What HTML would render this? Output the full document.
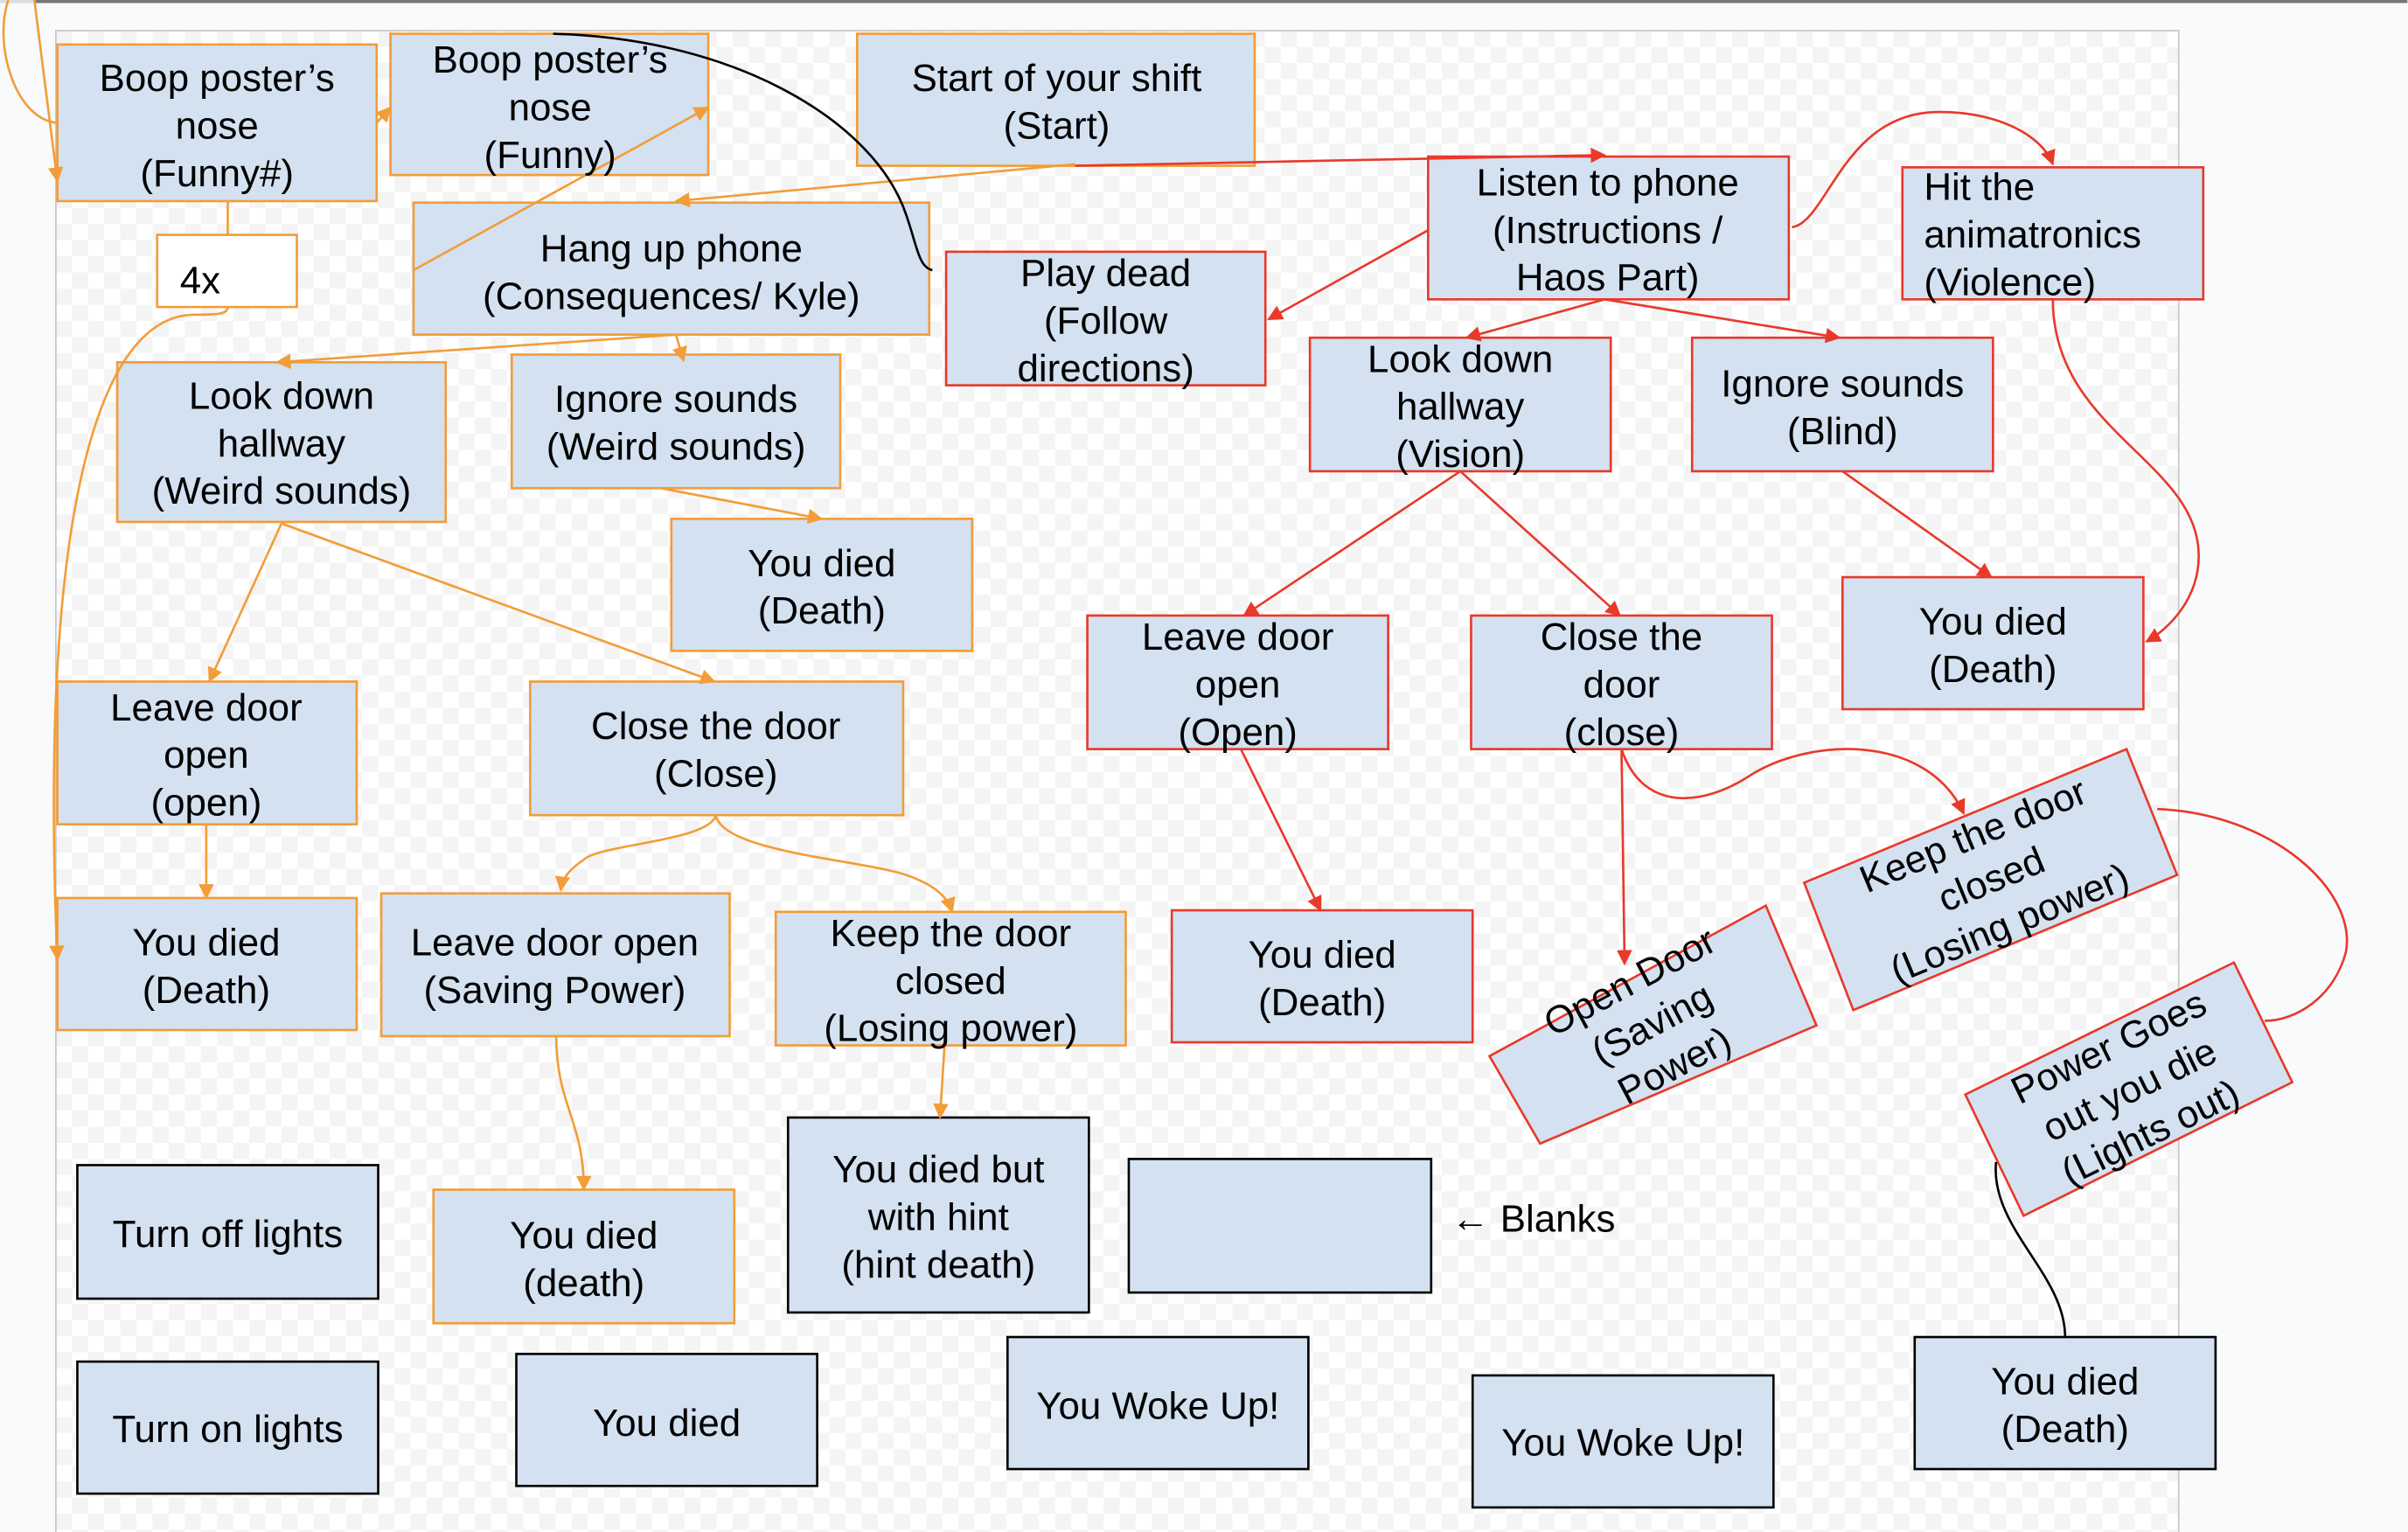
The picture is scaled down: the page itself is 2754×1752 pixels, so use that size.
<!DOCTYPE html>
<html><head><meta charset="utf-8"><style>
html,body{margin:0;padding:0;background:#f8fafc;}
svg{display:block;}
text{font-family:"Liberation Sans",Arial,sans-serif;font-size:25px;fill:#000;}
</style></head><body>
<svg width="2754" height="1752" viewBox="0 0 1568 998" xmlns="http://www.w3.org/2000/svg">
<defs>
<pattern id="chk" x="36" y="20" width="21" height="21" patternUnits="userSpaceOnUse">
<rect width="21" height="21" fill="#ffffff"/>
<rect width="10.5" height="10.5" fill="#f4f4f4"/>
<rect x="10.5" y="10.5" width="10.5" height="10.5" fill="#f4f4f4"/>
</pattern>
<marker id="ao" markerWidth="10" markerHeight="10" refX="9" refY="5" orient="auto" markerUnits="userSpaceOnUse" viewBox="0 0 10 10"><path d="M0,0 L10,5 L0,10 z" fill="#f29d38"/></marker>
<marker id="ar" markerWidth="10" markerHeight="10" refX="9" refY="5" orient="auto" markerUnits="userSpaceOnUse" viewBox="0 0 10 10"><path d="M0,0 L10,5 L0,10 z" fill="#e8392b"/></marker>
</defs>
<rect x="0" y="0" width="1568" height="998" fill="#f8fafc"/>
<rect x="0" y="0" width="1568" height="2" fill="#777"/>
<rect x="0" y="0" width="22" height="2" fill="#ddd"/>
<rect x="36" y="20" width="1383" height="980" fill="url(#chk)" stroke="#c8c8c8" stroke-width="1"/>

<!-- boxes -->
<g stroke-width="1.5" fill="#d4e1f0">
<g stroke="#f29d38">
<rect x="37" y="29" width="208" height="102"/>
<rect x="254" y="22" width="207" height="92"/>
<rect x="558" y="22" width="259" height="86"/>
<rect x="102" y="153" width="91" height="47" fill="#ffffff"/>
<rect x="269" y="132" width="336" height="86"/>
<rect x="76" y="236" width="214" height="104"/>
<rect x="333" y="231" width="214" height="87"/>
<rect x="437" y="338" width="196" height="86"/>
<rect x="37" y="444" width="195" height="93"/>
<rect x="345" y="444" width="243" height="87"/>
<rect x="37" y="585" width="195" height="86"/>
<rect x="248" y="582" width="227" height="93"/>
<rect x="505" y="594" width="228" height="87"/>
<rect x="282" y="775" width="196" height="87"/>
</g>
<g stroke="#e8392b">
<rect x="930" y="102" width="235" height="93"/>
<rect x="1239" y="109" width="196" height="86"/>
<rect x="616" y="164" width="208" height="87"/>
<rect x="853" y="220" width="196" height="87"/>
<rect x="1102" y="220" width="196" height="87"/>
<rect x="1200" y="376" width="196" height="86"/>
<rect x="708" y="401" width="196" height="87"/>
<rect x="958" y="401" width="196" height="87"/>
<rect x="763" y="593" width="196" height="86"/>
<polygon points="970,688 1150,590 1183,668 1003,745"/>
<polygon points="1175,575 1385,488 1418,570 1207,658"/>
<polygon points="1280,713 1455,627 1493,705 1318,792"/>
</g>
<g stroke="#000">
<rect x="513" y="728" width="196" height="127"/>
<rect x="735" y="755" width="197" height="87"/>
<rect x="50" y="759" width="196" height="87"/>
<rect x="50" y="887" width="196" height="86"/>
<rect x="336" y="882" width="196" height="86"/>
<rect x="656" y="871" width="196" height="86"/>
<rect x="959" y="896" width="196" height="86"/>
<rect x="1247" y="871" width="196" height="86"/>
</g>
</g>

<g fill="none" stroke-width="1.5">
<g stroke="#f29d38">
<path d="M37,80 C10,78 -5,30 5,0"/>
<path d="M22,0 L37,118" marker-end="url(#ao)"/>
<path d="M245,80 L254,70" marker-end="url(#ao)"/>
<path d="M269,176 L461,70" marker-end="url(#ao)"/>
<path d="M700,107 L440,131" marker-end="url(#ao)"/>
<path d="M148,131 L148,153"/>
<path d="M148,200 C148,205 140,205 125,205 C60,207 25,350 37,625" marker-end="url(#ao)"/>
<path d="M440,218 L180,236" marker-end="url(#ao)"/>
<path d="M440,218 L445,235" marker-end="url(#ao)"/>
<path d="M430,318 L535,338" marker-end="url(#ao)"/>
<path d="M183,341 L136,444" marker-end="url(#ao)"/>
<path d="M183,341 L465,444" marker-end="url(#ao)"/>
<path d="M134,537 L134,585" marker-end="url(#ao)"/>
<path d="M466,531 C462,548 390,550 380,560 C370,567 366,572 365,580" marker-end="url(#ao)"/>
<path d="M466,531 C470,555 560,560 590,570 C610,577 617,585 620,594" marker-end="url(#ao)"/>
<path d="M362,675 C362,720 380,730 380,775" marker-end="url(#ao)"/>
<path d="M615,681 L612,728" marker-end="url(#ao)"/>
</g>
<g stroke="#e8392b">
<path d="M700,108 L1045,101" marker-end="url(#ar)"/>
<path d="M930,150 L826,208" marker-end="url(#ar)"/>
<path d="M1045,195 L955,220" marker-end="url(#ar)"/>
<path d="M1045,195 L1198,220" marker-end="url(#ar)"/>
<path d="M1167,148 C1190,145 1200,75 1260,73 C1300,72 1330,88 1337,107" marker-end="url(#ar)"/>
<path d="M1337,195 C1337,280 1430,300 1432,360 C1433,390 1412,410 1398,418" marker-end="url(#ar)"/>
<path d="M951,307 L810,401" marker-end="url(#ar)"/>
<path d="M951,307 L1055,401" marker-end="url(#ar)"/>
<path d="M1200,307 L1297,376" marker-end="url(#ar)"/>
<path d="M808,488 L860,593" marker-end="url(#ar)"/>
<path d="M1056,488 L1058,628" marker-end="url(#ar)"/>
<path d="M1056,488 C1070,530 1110,525 1140,505 C1180,480 1255,478 1279,530" marker-end="url(#ar)"/>
<path d="M1405,527 C1480,530 1535,580 1528,620 C1520,650 1495,665 1475,665"/>
</g>
<g stroke="#000">
<path d="M360,22 C480,25 570,80 590,140 C597,160 598,174 607,176"/>
<path d="M1300,757 C1296,800 1345,830 1345,871"/>
</g>
</g>

<g text-anchor="middle" dominant-baseline="central">
<text x="141" y="51">Boop poster’s</text><text x="141" y="82">nose</text><text x="141" y="113">(Funny#)</text>
<text x="358" y="39">Boop poster’s</text><text x="358" y="70">nose</text><text x="358" y="101">(Funny)</text>
<text x="688" y="51">Start of your shift</text><text x="688" y="82">(Start)</text>
<text x="130" y="183">4x</text>
<text x="437" y="162">Hang up phone</text><text x="437" y="193">(Consequences/ Kyle)</text>
<text x="1047" y="119">Listen to phone</text><text x="1047" y="150">(Instructions /</text><text x="1047" y="181">Haos Part)</text>
<text x="1253" y="122" text-anchor="start">Hit the</text>
<text x="1253" y="153" text-anchor="start">animatronics</text>
<text x="1253" y="184" text-anchor="start">(Violence)</text>
<text x="720" y="178">Play dead</text><text x="720" y="209">(Follow</text><text x="720" y="240">directions)</text>
<text x="183" y="258">Look down</text><text x="183" y="289">hallway</text><text x="183" y="320">(Weird sounds)</text>
<text x="440" y="260">Ignore sounds</text><text x="440" y="291">(Weird sounds)</text>
<text x="951" y="234">Look down</text><text x="951" y="265">hallway</text><text x="951" y="296">(Vision)</text>
<text x="1200" y="250">Ignore sounds</text><text x="1200" y="281">(Blind)</text>
<text x="535" y="367">You died</text><text x="535" y="398">(Death)</text>
<text x="1298" y="405">You died</text><text x="1298" y="436">(Death)</text>
<text x="806" y="415">Leave door</text><text x="806" y="446">open</text><text x="806" y="477">(Open)</text>
<text x="1056" y="415">Close the</text><text x="1056" y="446">door</text><text x="1056" y="477">(close)</text>
<text x="134" y="461">Leave door</text><text x="134" y="492">open</text><text x="134" y="523">(open)</text>
<text x="466" y="473">Close the door</text><text x="466" y="504">(Close)</text>
<text x="134" y="614">You died</text><text x="134" y="645">(Death)</text>
<text x="361" y="614">Leave door open</text><text x="361" y="645">(Saving Power)</text>
<text x="619" y="608">Keep the door</text><text x="619" y="639">closed</text><text x="619" y="670">(Losing power)</text>
<text x="861" y="622">You died</text><text x="861" y="653">(Death)</text>
<text x="611" y="762">You died but</text><text x="611" y="793">with hint</text><text x="611" y="824">(hint death)</text>
<text x="148" y="804">Turn off lights</text>
<text x="148" y="931">Turn on lights</text>
<text x="380" y="805">You died</text><text x="380" y="836">(death)</text>
<text x="434" y="927">You died</text>
<text x="754" y="916">You Woke Up!</text>
<text x="1057" y="940">You Woke Up!</text>
<text x="1345" y="900">You died</text><text x="1345" y="931">(Death)</text>
<g transform="translate(1076,667) rotate(-28)">
<text x="0" y="-31">Open Door</text><text x="0" y="0">(Saving</text><text x="0" y="31">Power)</text></g>
<g transform="translate(1297,573) rotate(-22.5)">
<text x="0" y="-31">Keep the door</text><text x="0" y="0">closed</text><text x="0" y="31">(Losing power)</text></g>
<g transform="translate(1387,710) rotate(-26)">
<text x="0" y="-31">Power Goes</text><text x="0" y="0">out you die</text><text x="0" y="31">(Lights out)</text></g>
</g>
<text x="945" y="794" dominant-baseline="central">← Blanks</text>
</svg>
</body></html>
